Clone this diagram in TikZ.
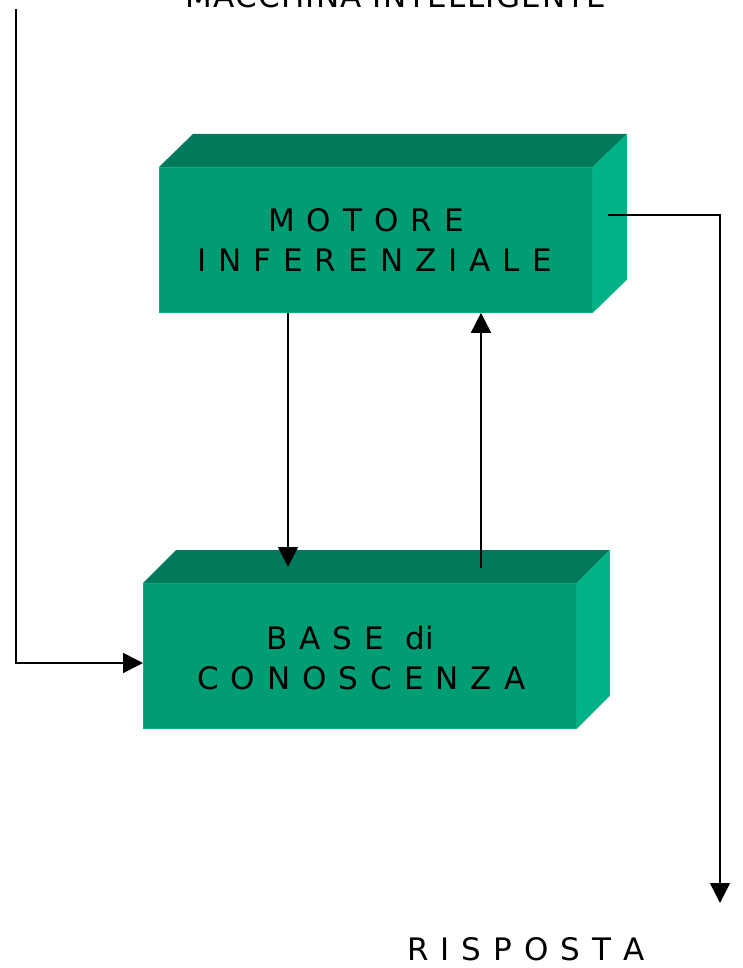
\documentclass[tikz,border=0pt]{standalone}
\usepackage{fontspec}
\setmainfont{DejaVu Sans}
\usetikzlibrary{arrows.meta,calc}
\definecolor{frontc}{RGB}{0,157,117}
\definecolor{frontedge}{RGB}{20,170,130}
\definecolor{topc}{RGB}{0,122,91}
\definecolor{sidec}{RGB}{0,179,134}
\newcommand{\gp}{\hspace{12pt}}
\begin{document}
\begin{tikzpicture}[x=1pt,y=-1pt,
  boxfront/.style={rectangle, fill=frontc, draw=frontedge, line width=0.8pt,
    minimum width=433pt, minimum height=145pt, inner sep=0pt, anchor=north west},
  topface/.style={fill=topc},
  sideface/.style={fill=sidec},
  lbl/.style={anchor=base west, inner sep=0pt, font=\fontsize{31}{37}\selectfont},
  arr/.style={line width=1.6pt, -{Triangle[length=20pt,width=20pt]}}]
\useasboundingbox (0,0) rectangle (742,968);
% top box
\node[boxfront] (motore) at (159,167) {};
\fill[topface] (motore.north west) -- (motore.north east) -- ++(34,-33) -- ($(motore.north west)+(34,-33)$) -- cycle;
\fill[sideface] (motore.north east) -- ++(34,-33) -- ($(motore.south east)+(34,-33)$) -- (motore.south east) -- cycle;
\node[lbl] (m1) at (268,232) {M\gp O\gp T\gp O\gp R\gp E};
\node[lbl] (m2) at (197,271) {I\gp N\gp F\gp E\gp R\gp E\gp N\gp Z\gp I\gp A\gp L\gp E};
% bottom box
\node[boxfront] (base) at (143,583) {};
\fill[topface] (base.north west) -- (base.north east) -- ++(33,-33) -- ($(base.north west)+(33,-33)$) -- cycle;
\fill[sideface] (base.north east) -- ++(33,-33) -- ($(base.south east)+(33,-33)$) -- (base.south east) -- cycle;
\node[lbl] (b1) at (266,649) {B\gp A\gp S\gp E\hspace{22pt}di};
\node[lbl] (b2) at (197,689) {C\gp O\gp N\gp O\gp S\gp C\gp E\gp N\gp Z\gp A};
% other labels
\node[anchor=base, inner sep=0pt, font=\fontsize{31}{37}\selectfont\addfontfeature{LetterSpace=4}] (title) at (396,8) {MACCHINA INTELLIGENTE};
\node[lbl] (risp) at (407,960) {R\gp I\gp S\gp P\gp O\gp S\gp T\gp A};
% connectors
\coordinate (l0) at (16,9);
\coordinate (l1) at (0,663);
\coordinate (d0) at (288,567);
\coordinate (u0) at (481,568);
\coordinate (r0) at (608,215);
\coordinate (r1) at (720,903);
\draw[arr] (l0) |- (base.west |- l1);
\draw[arr] (motore.south -| d0) -- (d0);
\draw[arr] (u0) -- (motore.south -| u0);
\draw[arr] (r0) -| (r1);
\end{tikzpicture}
\end{document}
